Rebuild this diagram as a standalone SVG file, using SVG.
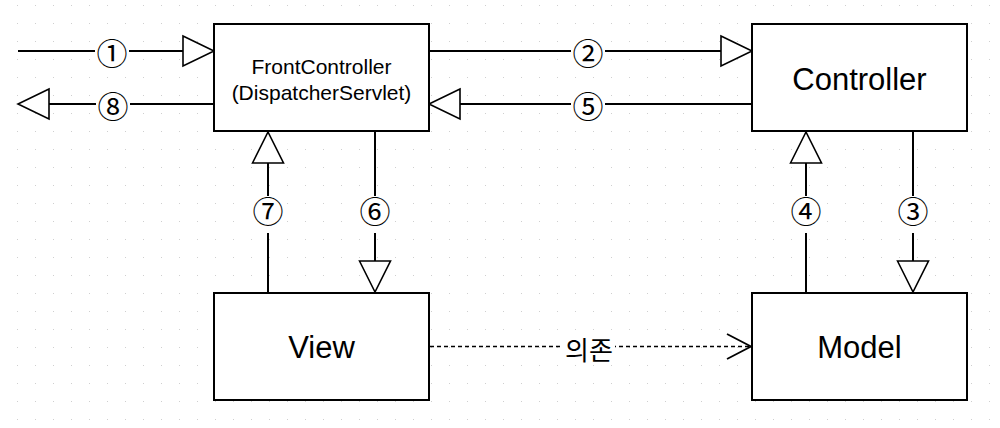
<svg xmlns="http://www.w3.org/2000/svg" width="1000" height="428" viewBox="0 0 1000 428">
  <style>
    .box { fill: #ffffff; stroke: #000000; stroke-width: 2; }
    .line { fill: none; stroke: #000000; stroke-width: 2; }
    .dash { fill: none; stroke: #000000; stroke-width: 1.6; stroke-dasharray: 4 3; }
    .head { fill: #ffffff; stroke: #000000; stroke-width: 1.6; stroke-linejoin: miter; }
    .lbg { fill: #ffffff; stroke: none; }
    .num { font-family: "Noto Sans CJK KR", "DejaVu Sans", sans-serif; font-size: 31px; fill: #000000; text-anchor: middle; dominant-baseline: central; }
    .t-big { font-family: "Liberation Sans", Arial, sans-serif; font-size: 31px; fill: #000000; text-anchor: middle; }
    .t-mid { font-family: "Liberation Sans", Arial, sans-serif; font-size: 21px; fill: #000000; text-anchor: middle; }
    .t-ko { font-family: "Noto Sans CJK KR", sans-serif; font-size: 26px; fill: #000000; text-anchor: middle; dominant-baseline: central; }
  </style>
  <defs>
    <pattern id="grid" x="17" y="5" width="18" height="18" patternUnits="userSpaceOnUse">
      <rect x="0" y="0" width="1" height="1" fill="#cfcfcf"/>
    </pattern>
  </defs>
  <rect x="0" y="0" width="1000" height="428" fill="#ffffff"/>
  <rect x="0" y="0" width="1000" height="428" fill="url(#grid)"/>

  <g id="connectors">
    <g id="c1">
      <line class="line" x1="18" y1="51" x2="183" y2="51"/>
      <polygon class="head" points="183,36 214,51 183,66"/>
      <rect class="lbg" x="95" y="38" width="34" height="26"/>
      <text class="num" x="112" y="51">①</text>
    </g>
    <g id="c8">
      <line class="line" x1="214" y1="104" x2="49" y2="104"/>
      <polygon class="head" points="49,89 18,104 49,119"/>
      <rect class="lbg" x="96" y="91" width="34" height="26"/>
      <text class="num" x="113" y="104">⑧</text>
    </g>
    <g id="c2">
      <line class="line" x1="429" y1="51" x2="721" y2="51"/>
      <polygon class="head" points="721,36 752,51 721,66"/>
      <rect class="lbg" x="571" y="38" width="34" height="26"/>
      <text class="num" x="588" y="51">②</text>
    </g>
    <g id="c5">
      <line class="line" x1="752" y1="104" x2="460" y2="104"/>
      <polygon class="head" points="460,89 429,104 460,119"/>
      <rect class="lbg" x="571" y="91" width="34" height="26"/>
      <text class="num" x="588" y="104">⑤</text>
    </g>
    <g id="c7">
      <line class="line" x1="268" y1="293" x2="268" y2="163"/>
      <polygon class="head" points="252.5,163 268,132 283.5,163"/>
      <rect class="lbg" x="251" y="196" width="34" height="37"/>
      <text class="num" x="268" y="209">⑦</text>
    </g>
    <g id="c6">
      <line class="line" x1="375" y1="131" x2="375" y2="261"/>
      <polygon class="head" points="359.5,261 375,292 390.5,261"/>
      <rect class="lbg" x="358" y="196" width="34" height="37"/>
      <text class="num" x="375" y="209">⑥</text>
    </g>
    <g id="c4">
      <line class="line" x1="806" y1="293" x2="806" y2="163"/>
      <polygon class="head" points="790.5,163 806,132 821.5,163"/>
      <rect class="lbg" x="789" y="196" width="34" height="37"/>
      <text class="num" x="806" y="209">④</text>
    </g>
    <g id="c3">
      <line class="line" x1="913" y1="131" x2="913" y2="261"/>
      <polygon class="head" points="897.5,261 913,292 928.5,261"/>
      <rect class="lbg" x="896" y="196" width="34" height="37"/>
      <text class="num" x="913" y="209">③</text>
    </g>
    <g id="dep">
      <line class="dash" x1="430" y1="346.5" x2="751" y2="346.5"/>
      <polyline class="line" points="727,334 751,346.5 727,359" style="stroke-width:1.8"/>
      <rect class="lbg" x="563" y="334" width="52" height="26"/>
      <text class="t-ko" x="589" y="348">의존</text>
    </g>
  </g>

  <g id="frontcontroller">
    <rect class="box" x="214" y="24" width="215" height="107"/>
    <text class="t-mid" x="321.5" y="74">FrontController</text>
    <text class="t-mid" x="321.5" y="100">(DispatcherServlet)</text>
  </g>
  <g id="controller">
    <rect class="box" x="752" y="24" width="215" height="107"/>
    <text class="t-big" x="859.5" y="90">Controller</text>
  </g>
  <g id="view">
    <rect class="box" x="214" y="293" width="215" height="107"/>
    <text class="t-big" x="321.5" y="358">View</text>
  </g>
  <g id="model">
    <rect class="box" x="752" y="293" width="215" height="107"/>
    <text class="t-big" x="859.5" y="358">Model</text>
  </g>
</svg>
